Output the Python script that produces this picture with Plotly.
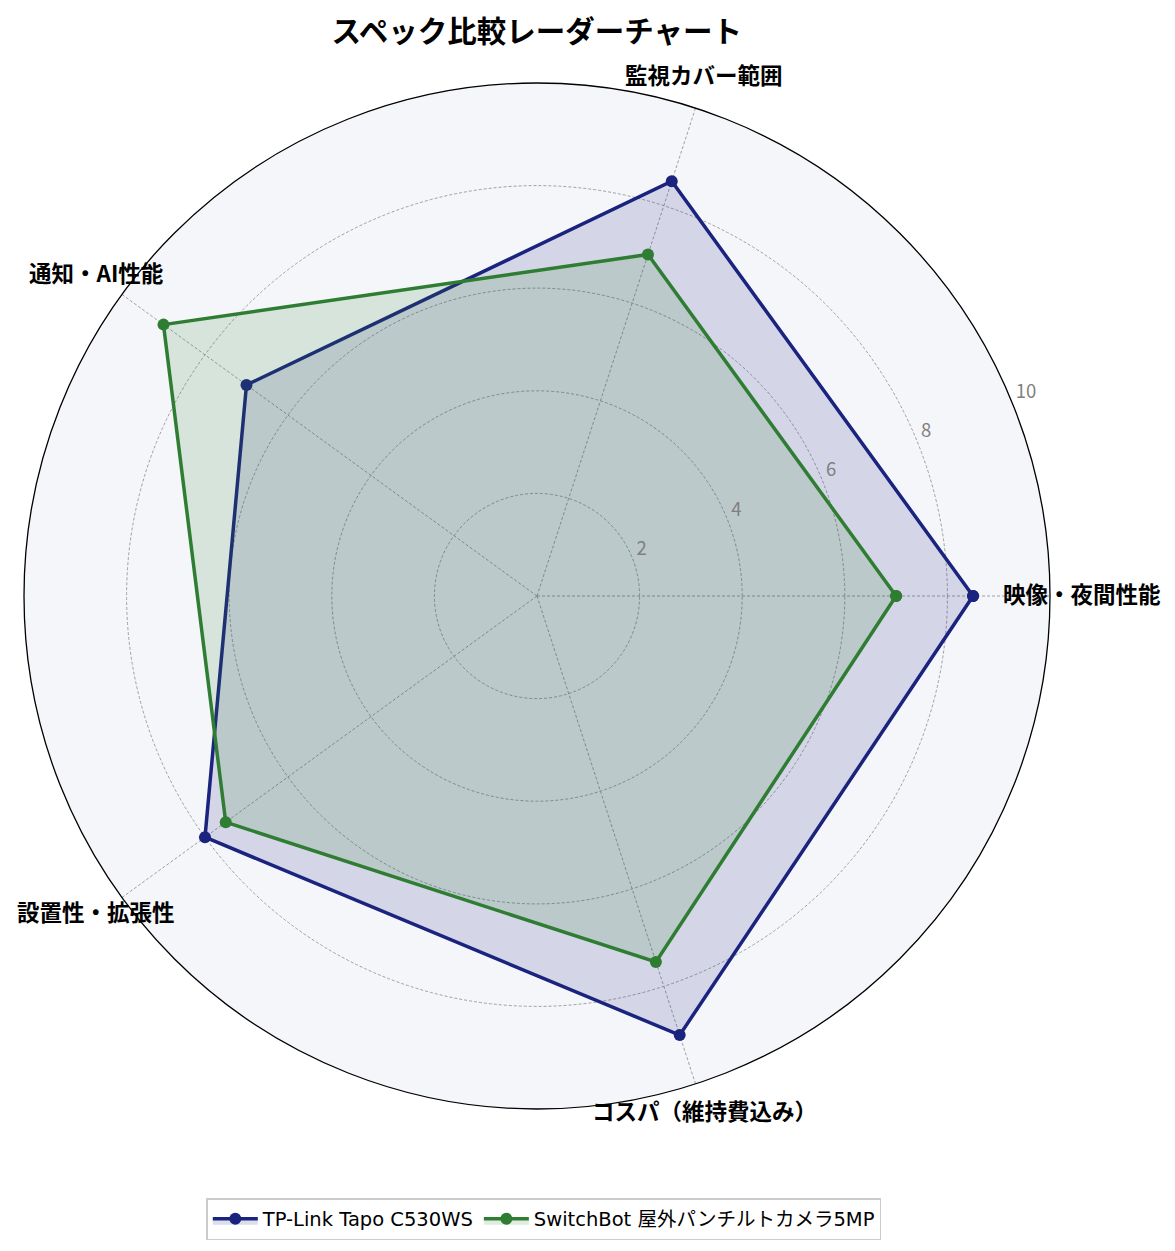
import plotly.graph_objects as go

categories = ["映像・夜間性能", "監視カバー範囲", "通知・AI性能", "設置性・拡張性", "コスパ（維持費込み）"]
tapo_name = "TP-Link Tapo C530WS"
tapo_scores = [8.5, 8.5, 7, 8, 9]
switchbot_name = "SwitchBot 屋外パンチルトカメラ5MP"
switchbot_scores = [7, 7, 9, 7.5, 7.5]
radial_ticks = [2, 4, 6, 8, 10]

FONT = "Noto Sans CJK JP"
W, H = 1175, 1251

# where the category labels sit in the picture (pixels from top-left)
label_pos = [(1074, 585), (696, 66), (88, 264), (88, 903), (696, 1102)]


def closed(seq):
    return list(seq) + [seq[0]]


def dom(dx, dy):
    # polar domain giving a 1026px circle centred near (537, 595)
    return dict(x=[(24 + dx) / W, (1050 + dx) / W],
                y=[1 - (1108 + dy) / H, 1 - (82 + dy) / H])


fig = go.Figure()
for name, vals, line_col, fill_col in [
    (tapo_name, tapo_scores, "#1a237e", "rgba(26,35,126,0.15)"),
    (switchbot_name, switchbot_scores, "#2e7d32", "rgba(46,125,50,0.15)"),
]:
    fig.add_trace(go.Scatterpolar(
        r=closed(vals), theta=closed(categories),
        mode="lines+markers", name=name,
        fill="toself", fillcolor=fill_col,
        line=dict(color=line_col, width=3.5),
        marker=dict(color=line_col, size=12),
    ))

# overlay subplot used only for the radial numbers (sits a little higher, like matplotlib's)
fig.add_trace(go.Scatterpolar(r=[0], theta=[0], mode="markers", marker=dict(size=0, opacity=0),
                              showlegend=False, hoverinfo="skip", subplot="polar2"))

# category labels as annotations so they can overlap the outer circle like the original
for text, (px_, py_) in zip(categories, label_pos):
    fig.add_annotation(
        text="<b>%s</b>" % text, x=px_ / W, y=1 - py_ / H,
        xref="paper", yref="paper", showarrow=False,
        xanchor="center", yanchor="middle",
        font=dict(size=22.5, family=FONT, color="black"),
    )

grid = dict(gridcolor="#a0a0a0", griddash="3px,2px", gridwidth=0.8)
fig.update_layout(
    width=W, height=H,
    margin=dict(l=0, r=0, t=0, b=0),
    paper_bgcolor="white",
    font=dict(family=FONT, color="black"),
    title=dict(text="<b>スペック比較レーダーチャート</b>", x=0.450, xanchor="center",
               y=1 - 24 / H, yanchor="middle", font=dict(size=29.5, family=FONT)),
    polar=dict(
        domain=dom(-8, -7),
        bgcolor="#f5f6fa",
        angularaxis=dict(
            direction="counterclockwise", rotation=0,
            showline=True, linecolor="black", linewidth=1.3,
            ticks="", showticklabels=False,
            categoryarray=categories, **grid,
        ),
        radialaxis=dict(
            range=[0, 10], tickvals=radial_ticks, angle=22.5,
            showline=False, ticks="", showticklabels=False, **grid,
        ),
    ),
    polar2=dict(
        domain=dom(-7, -27),
        bgcolor="rgba(0,0,0,0)",
        angularaxis=dict(visible=False, showgrid=False, direction="counterclockwise", rotation=0),
        radialaxis=dict(
            range=[0, 10], tickvals=radial_ticks, angle=22.5, tickangle=22.5,
            side="clockwise", showline=False, showgrid=False, ticks="",
            tickfont=dict(size=18.5, color="#808080", family=FONT),
        ),
    ),
    legend=dict(
        orientation="h", x=0.456, xanchor="center", y=1 - 1211 / H, yanchor="middle",
        bordercolor="#cccccc", borderwidth=1.5, bgcolor="white", itemwidth=45,
        font=dict(size=19.5, family="DejaVu Sans, " + FONT),
    ),
)

fig.write_html("out.html")
